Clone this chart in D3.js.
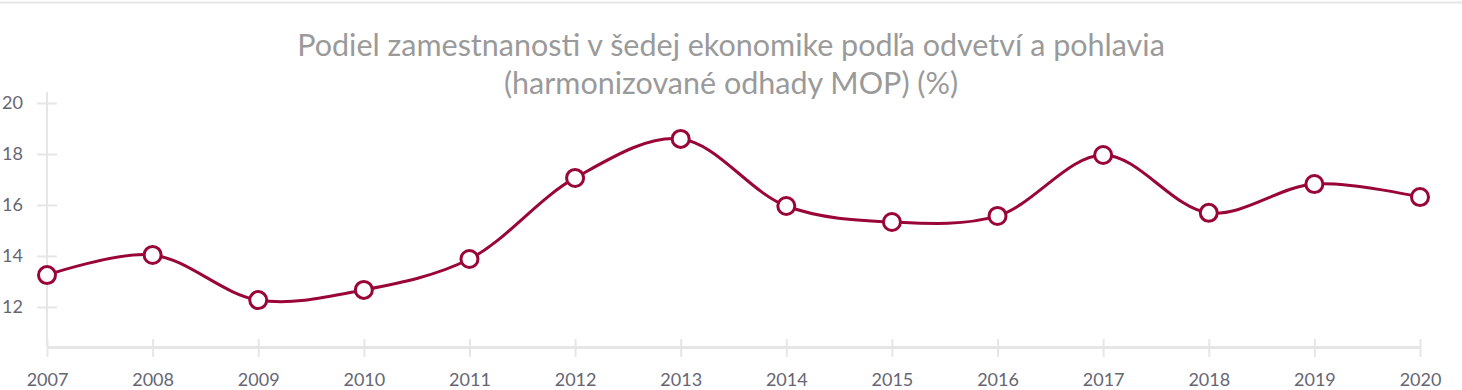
<!DOCTYPE html>
<html>
<head>
<meta charset="utf-8">
<script src="https://cdn.jsdelivr.net/npm/d3@7"></script>
<style>
  body { margin: 0; background: #fff; }
  svg { display: block; font-family: Lato, sans-serif; }
</style>
</head>
<body>
<div id="chart"></div>
<script>
const years = [2007, 2008, 2009, 2010, 2011, 2012, 2013, 2014, 2015, 2016, 2017, 2018, 2019, 2020];
const values = [13.25, 14.04, 12.27, 12.67, 13.88, 17.06, 18.59, 15.96, 15.33, 15.57, 17.96, 15.69, 16.82, 16.31];
const yTicks = [12, 14, 16, 18, 20];
const titleLines = ['Podiel zamestnanosti v šedej ekonomike podľa odvetví a pohlavia', '(harmonizované odhady MOP) (%)'];

const width = 1462, height = 390;
const margin = {top: 92, right: 42, bottom: 43, left: 47};
const color = '#9a0538';

const svg = d3.select('#chart').append('svg')
  .attr('width', width).attr('height', height);

// top border line
svg.append('line')
  .attr('x1', 0).attr('x2', width).attr('y1', 2.5).attr('y2', 2.5)
  .attr('stroke', '#e6e6e6').attr('stroke-width', 2);

svg.append('text')
  .attr('text-anchor', 'middle')
  .attr('fill', '#9a9a9a')
  .attr('font-size', 30.5)
  .selectAll('tspan')
  .data(titleLines)
  .join('tspan')
  .attr('x', width / 2)
  .attr('y', (d, i) => 56 + i * 38)
  .text(d => d);

const xScale = d3.scalePoint()
  .domain(years)
  .range([margin.left, width - margin.right]);

const yScale = d3.scaleLinear()
  .domain([10.43, 20.43])
  .range([height - margin.bottom, margin.top]);

const axisColor = '#e6e6e6';

// y axis
const yAxisG = svg.append('g').attr('transform', `translate(${margin.left},0)`);
yAxisG.call(d3.axisLeft(yScale).tickValues(yTicks).tickSize(0).tickPadding(0));
yAxisG.select('.domain').remove();
yAxisG.append('line')
  .attr('x1', 0).attr('x2', 0)
  .attr('y1', margin.top).attr('y2', height - margin.bottom)
  .attr('stroke', axisColor).attr('stroke-width', 2);
yAxisG.selectAll('.tick line')
  .attr('x1', -10).attr('x2', 10)
  .attr('stroke', axisColor).attr('stroke-width', 2);
yAxisG.selectAll('.tick text')
  .attr('x', -24)
  .attr('fill', '#666672')
  .attr('font-size', 18)
  .attr('font-family', 'Lato, sans-serif');

// x axis
const xAxisG = svg.append('g').attr('transform', `translate(0,${height - margin.bottom})`);
xAxisG.call(d3.axisBottom(xScale).tickSize(0).tickPadding(0));
xAxisG.select('.domain')
  .attr('stroke', axisColor).attr('stroke-width', 3);
xAxisG.selectAll('.tick line')
  .attr('y1', -8).attr('y2', 10)
  .attr('stroke', axisColor).attr('stroke-width', 2);
xAxisG.selectAll('.tick text')
  .attr('y', 39)
  .attr('dy', 0)
  .attr('fill', '#666672')
  .attr('font-size', 18)
  .attr('font-family', 'Lato, sans-serif');

const data = years.map((y, i) => ({year: y, value: values[i]}));

const line = d3.line()
  .x(d => xScale(d.year))
  .y(d => yScale(d.value))
  .curve(d3.curveCatmullRom.alpha(0.5));

svg.append('path')
  .datum(data)
  .attr('fill', 'none')
  .attr('stroke', color)
  .attr('stroke-width', 3)
  .attr('d', line);

svg.selectAll('.dot')
  .data(data)
  .join('circle')
  .attr('class', 'dot')
  .attr('cx', d => xScale(d.year))
  .attr('cy', d => yScale(d.value))
  .attr('r', 8.5)
  .attr('fill', '#fff')
  .attr('stroke', color)
  .attr('stroke-width', 3);
</script>
</body>
</html>
